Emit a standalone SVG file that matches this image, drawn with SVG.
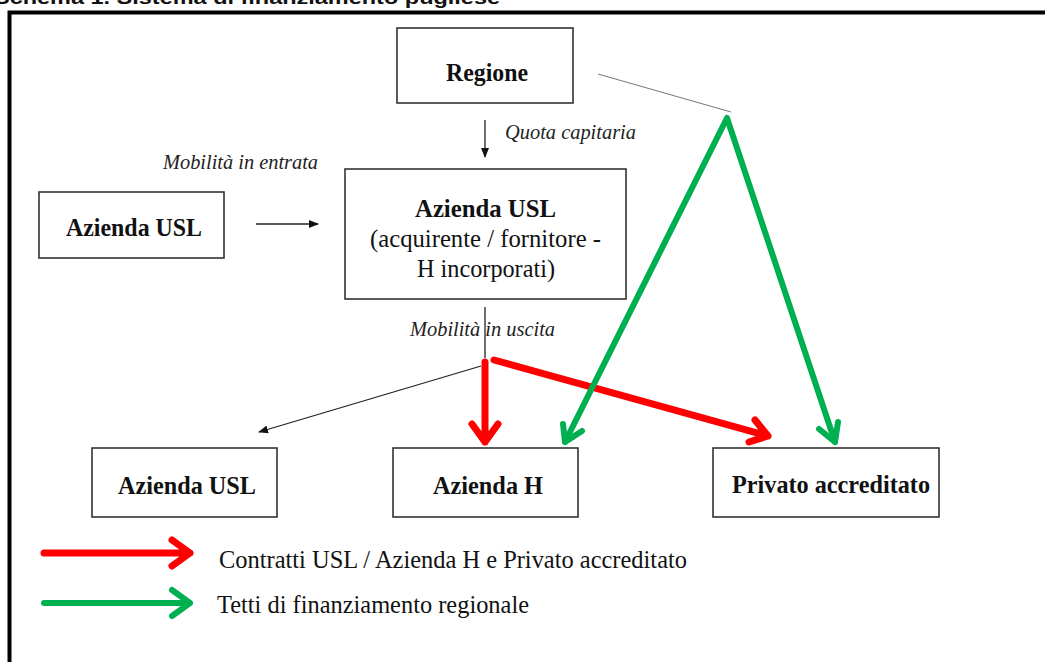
<svg xmlns="http://www.w3.org/2000/svg" width="1045" height="662" viewBox="0 0 1045 662">
<style>
.box{fill:#fff;stroke:#333;stroke-width:1.6}
.b{font-family:"Liberation Serif",serif;font-weight:bold;font-size:25px;fill:#111}
.n{font-family:"Liberation Serif",serif;font-size:25px;fill:#111}
.i{font-family:"Liberation Serif",serif;font-style:italic;font-size:20px;fill:#222}
.l{font-family:"Liberation Serif",serif;font-size:25px;fill:#111}
.red{stroke:#f00;stroke-width:7;fill:none;stroke-linecap:round;stroke-linejoin:round}
.grn{stroke:#00b050;stroke-width:6;fill:none;stroke-linecap:round;stroke-linejoin:round}
.thin{stroke:#222;stroke-width:1.3;fill:none}
</style>
<defs>
<marker id="ah" markerWidth="10" markerHeight="8" refX="9" refY="4" orient="auto" markerUnits="userSpaceOnUse">
<path d="M0,0 L10,4 L0,8 Z" fill="#111"/>
</marker>
</defs>
<rect width="1045" height="662" fill="#fff"/>
<text x="-6" y="4" font-family="'Liberation Sans',sans-serif" font-weight="bold" font-size="19" fill="#111" textLength="506" lengthAdjust="spacingAndGlyphs">Schema 1. Sistema di finanziamento pugliese</text>
<path d="M9.5,680 L9.5,12.5 L1060,12.5" fill="none" stroke="#000" stroke-width="4"/>

<g id="connectors">
<line class="thin" x1="485" y1="120" x2="485" y2="157" marker-end="url(#ah)"/>
<line class="thin" x1="256" y1="224" x2="318" y2="224" marker-end="url(#ah)"/>
<line class="thin" x1="485" y1="307" x2="485" y2="358"/>
<line class="thin" x1="481" y1="366" x2="259" y2="432" stroke-width="1.1" marker-end="url(#ah)"/>
<line x1="598" y1="74" x2="731" y2="112" stroke="#777" stroke-width="1"/>
<path class="red" d="M485,362 L485,442 M472,424 L485,442 L498,424"/>
<path class="red" d="M494,360 L768,436 M755,420 L768,436 L749,442"/>
<path class="grn" d="M565,442 L727,118 L835,442"/>
<path class="grn" d="M563,424 L565,442 L582,431"/>
<path class="grn" d="M819,429 L835,442 L838,422"/>
<path class="red" d="M44,553 L190,553 M172,540 L190,553 L172,566"/>
<path class="grn" d="M44,603 L190,603 M172,590 L190,603 L172,616"/>
</g>

<g id="regione">
<rect class="box" x="397" y="28" width="176" height="75"/>
<text class="b" x="446" y="81" textLength="82" lengthAdjust="spacingAndGlyphs">Regione</text>
</g>
<g id="azienda-usl-centrale">
<rect class="box" x="345" y="169" width="281" height="130"/>
<text class="b" x="415" y="217" textLength="141" lengthAdjust="spacingAndGlyphs">Azienda USL</text>
<text class="n" x="370" y="247" textLength="231" lengthAdjust="spacingAndGlyphs">(acquirente / fornitore -</text>
<text class="n" x="417" y="277" textLength="138" lengthAdjust="spacingAndGlyphs">H incorporati)</text>
</g>
<g id="azienda-usl-sinistra">
<rect class="box" x="39" y="192" width="185" height="66"/>
<text class="b" x="66" y="236" textLength="136" lengthAdjust="spacingAndGlyphs">Azienda USL</text>
</g>
<g id="azienda-usl-basso">
<rect class="box" x="92" y="448" width="185" height="69"/>
<text class="b" x="118" y="494" textLength="138" lengthAdjust="spacingAndGlyphs">Azienda USL</text>
</g>
<g id="azienda-h">
<rect class="box" x="393" y="448" width="185" height="69"/>
<text class="b" x="433" y="494" textLength="110" lengthAdjust="spacingAndGlyphs">Azienda H</text>
</g>
<g id="privato">
<rect class="box" x="713" y="448" width="226" height="69"/>
<text class="b" x="732" y="493" textLength="198" lengthAdjust="spacingAndGlyphs">Privato accreditato</text>
</g>

<g id="labels">
<text class="i" x="505" y="139" textLength="131" lengthAdjust="spacingAndGlyphs">Quota capitaria</text>
<text class="i" x="163" y="169" textLength="155" lengthAdjust="spacingAndGlyphs">Mobilità in entrata</text>
<text class="i" x="410" y="336" textLength="145" lengthAdjust="spacingAndGlyphs">Mobilità in uscita</text>
<text class="l" x="219" y="568" textLength="468" lengthAdjust="spacingAndGlyphs">Contratti USL / Azienda H e Privato accreditato</text>
<text class="l" x="217" y="613" textLength="312" lengthAdjust="spacingAndGlyphs">Tetti di finanziamento regionale</text>
</g>
</svg>
